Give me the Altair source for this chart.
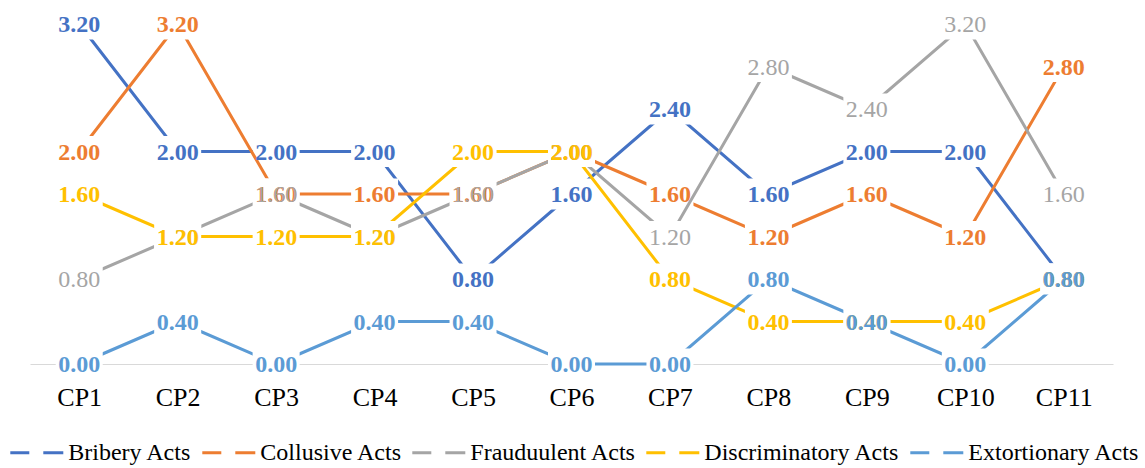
import altair as alt
import pandas as pd

# Categories and series
points = ["CP1", "CP2", "CP3", "CP4", "CP5", "CP6", "CP7", "CP8", "CP9", "CP10", "CP11"]
series_names = ["Bribery Acts", "Collusive Acts", "Frauduulent Acts",
                "Discriminatory Acts", "Extortionary Acts"]
colors = ["#4472C4", "#ED7D31", "#A5A5A5", "#FFC000", "#5B9BD5"]

bribery = [3.20, 2.00, 2.00, 2.00, 0.80, 1.60, 2.40, 1.60, 2.00, 2.00, 0.80]
collusive = [2.00, 3.20, 1.60, 1.60, 1.60, 2.00, 1.60, 1.20, 1.60, 1.20, 2.80]
fraudulent = [0.80, 1.20, 1.60, 1.20, 1.60, 2.00, 1.20, 2.80, 2.40, 3.20, 1.60]
discriminatory = [1.60, 1.20, 1.20, 1.20, 2.00, 2.00, 0.80, 0.40, 0.40, 0.40, 0.80]
extortionary = [0.00, 0.40, 0.00, 0.40, 0.40, 0.00, 0.00, 0.80, 0.40, 0.00, 0.80]

series_values = [bribery, collusive, fraudulent, discriminatory, extortionary]
label_weights = ["bold", "bold", "normal", "bold", "bold"]

rows = []
for name, vals in zip(series_names, series_values):
    for cp, v in zip(points, vals):
        rows.append({"cp": cp, "series": name, "value": v, "label": f"{v:.2f}"})
df = pd.DataFrame(rows)

FONT = "Liberation Serif"

x_enc = alt.X(
    "cp:N", sort=points,
    scale=alt.Scale(type="point", padding=0.5),
    axis=alt.Axis(title=None, ticks=False, tickSize=0, grid=False,
                  labelFont=FONT, labelFontSize=26, labelColor="#000000",
                  labelBaseline="alphabetic", labelPadding=41, labelAngle=0,
                  domainColor="#D9D9D9", domainWidth=1.2),
)
y_enc = alt.Y("value:Q", scale=alt.Scale(domain=[0, 3.2], nice=False, zero=False), axis=None)

color_enc = alt.Color(
    "series:N",
    scale=alt.Scale(domain=series_names, range=colors),
    sort=series_names,
    legend=alt.Legend(
        title=None, orient="none", direction="horizontal", columns=5,
        legendX=-21.7, legendY=400,
        symbolType="stroke", symbolSize=2809, symbolStrokeWidth=3.2,
        symbolDash=[19, 14, 20, 100],
        labelFont=FONT, labelFontSize=24, labelColor="#000000",
        labelOffset=3, columnPadding=3, labelLimit=400, padding=0,
    ),
)

# Label background box: 47 x 31 px white rectangle
box_shape = "M-1,-0.66L1,-0.66L1,0.66L-1,0.66Z"

lines_and_boxes = []
texts = []
for name, col, weight in zip(series_names, colors, label_weights):
    sub = alt.Chart(df).transform_filter(alt.datum.series == name)
    line = sub.mark_line(strokeWidth=3).encode(x=x_enc, y=y_enc, color=color_enc)
    box = sub.mark_point(shape=box_shape, size=2209, filled=True, color="white",
                         opacity=1, strokeWidth=0).encode(x=x_enc, y=y_enc)
    text = sub.mark_text(font=FONT, fontSize=24, fontWeight=weight, color=col,
                         baseline="middle", align="center", dy=1).encode(
        x=x_enc, y=y_enc, text="label:N")
    lines_and_boxes += [line, box]
    texts.append(text)

chart = alt.layer(*lines_and_boxes, *texts).properties(
    width=1083, height=340,
    padding={"left": 30, "top": 24, "right": 32, "bottom": 104},
    autosize=alt.AutoSizeParams(type="none"),
    background="white",
).configure_view(stroke=None)

chart.save("out.html", embed_options={"renderer": "svg", "actions": False})
